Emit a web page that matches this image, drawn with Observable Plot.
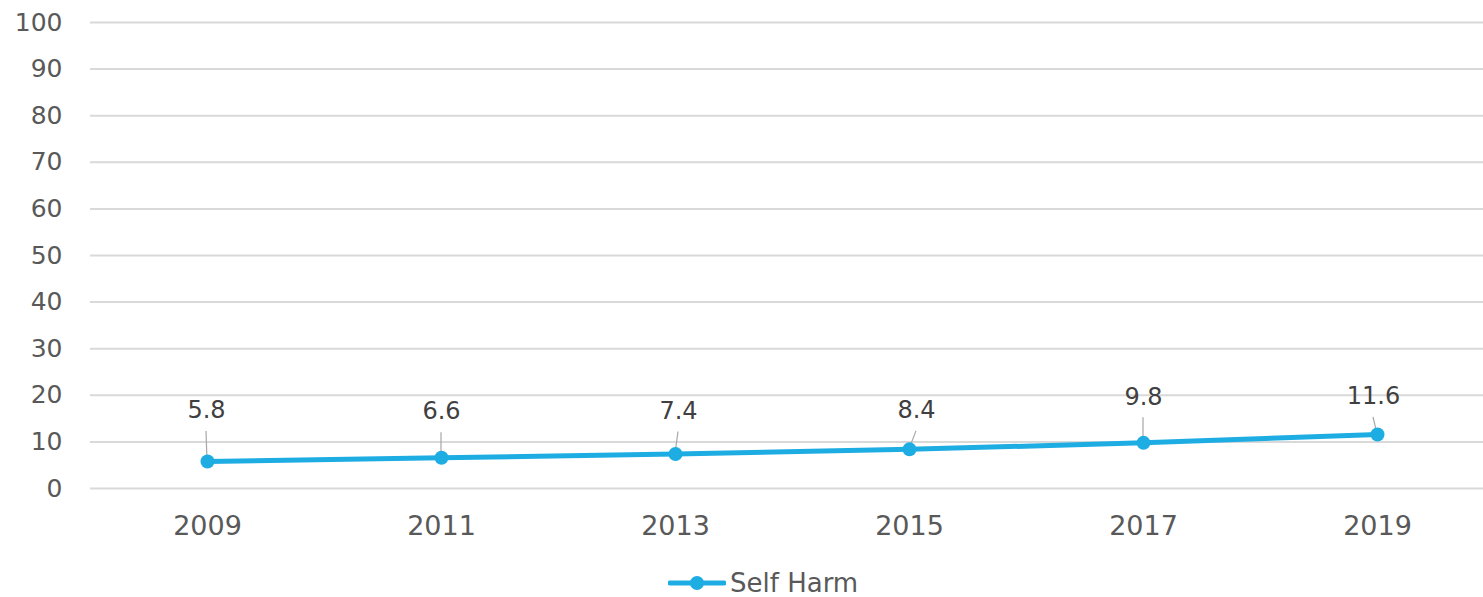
<!DOCTYPE html>
<html><head><meta charset="utf-8">
<script src="https://cdn.jsdelivr.net/npm/d3@7"></script>
<script src="https://cdn.jsdelivr.net/npm/@observablehq/plot@0.6"></script>
<style>
body{margin:0;background:#fff;font-family:"DejaVu Sans",sans-serif;}
#legend{height:37px;position:relative;color:#595959;font-size:26px;}
#legend .item{position:absolute;left:668px;top:8px;display:flex;align-items:center;gap:4px;}
</style>
</head><body><div id="chart"></div><div id="legend"></div>
<script>
const years = ["2009", "2011", "2013", "2015", "2017", "2019"];
const selfHarm = [5.8, 6.6, 7.4, 8.4, 9.8, 11.6];
const yTicks = [0, 10, 20, 30, 40, 50, 60, 70, 80, 90, 100];
const seriesName = "Self Harm";

const data = years.map((year, i) => ({year, value: selfHarm[i]}));
const lineColor = "#1EADE3";
// label placement (pixel offsets from each point), styling only
const labelOffsets = [[-1, -51], [0, -46], [3, -43], [7, -39], [0, -46], [-4, -38]];

const leaders = (index, scales) => {
  const g = d3.create("svg:g").attr("stroke", "#a6a6a6").attr("stroke-width", 1.2);
  data.forEach((d, i) => {
    const px = scales.x(d.year), py = scales.y(d.value);
    g.append("line")
      .attr("x1", px).attr("y1", py)
      .attr("x2", px + labelOffsets[i][0]).attr("y2", py + labelOffsets[i][1] + 21);
  });
  return g.node();
};

const chart = Plot.plot({
  width: 1483,
  height: 560,
  marginLeft: 90,
  marginRight: 0,
  marginTop: 22,
  marginBottom: 72,
  style: {fontFamily: "DejaVu Sans, sans-serif", fontSize: "25px", color: "#595959", background: "#fff"},
  x: {type: "point", domain: years, padding: 0, insetLeft: 116, insetRight: 105},
  y: {domain: [0, 100]},
  marks: [
    Plot.ruleY(yTicks, {stroke: "#d9d9d9", strokeWidth: 2}),
    Plot.axisY({ticks: yTicks, tickSize: 0, tickPadding: 28, label: null, fontSize: 25, fill: "#595959"}),
    Plot.axisX({tickSize: 0, tickPadding: 27, label: null, fontSize: 27, fill: "#595959"}),
    leaders,
    Plot.line(data, {x: "year", y: "value", stroke: lineColor, strokeWidth: 5, curve: "linear"}),
    Plot.dot(data, {x: "year", y: "value", r: 7, fill: lineColor, stroke: "none"}),
    ...data.map((d, i) => Plot.text([d], {
      x: "year", y: "value", text: dd => dd.value.toFixed(1),
      dx: labelOffsets[i][0], dy: labelOffsets[i][1],
      fontSize: 24, fill: "#404040"
    }))
  ]
});
document.getElementById("chart").appendChild(chart);

const legend = document.getElementById("legend");
legend.innerHTML = `<div class="item"><svg width="58" height="20"><line x1="2" y1="10" x2="56" y2="10" stroke="${lineColor}" stroke-width="5" stroke-linecap="round"/><circle cx="29" cy="10" r="7" fill="${lineColor}"/></svg><span>${seriesName}</span></div>`;
</script>
</body></html>
